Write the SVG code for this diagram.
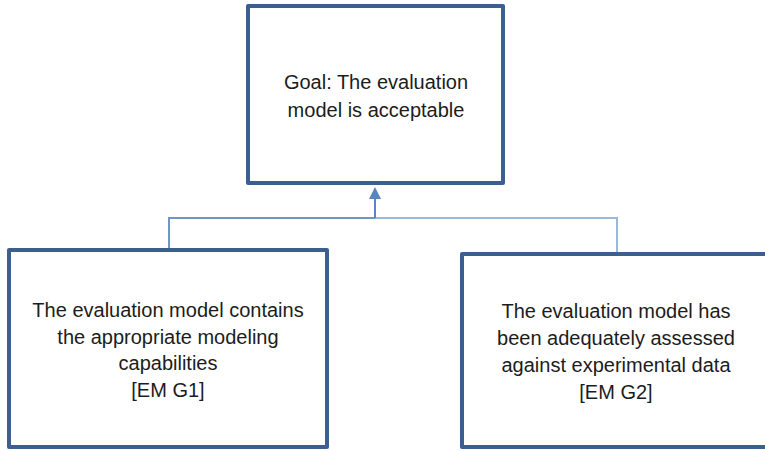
<svg xmlns="http://www.w3.org/2000/svg" width="765" height="451" viewBox="0 0 765 451">
<style>
.box{fill:#ffffff;stroke:#3d5f8d;stroke-width:4;stroke-linejoin:round}
.t{font-family:"Liberation Sans",Arial,sans-serif;font-size:20px;fill:#1c1c1c;text-anchor:middle}
.c{fill:none;stroke-width:2}
</style>
<defs>
<marker id="ah" markerWidth="6" markerHeight="6" refX="5" refY="3" orient="auto" markerUnits="strokeWidth">
<path d="M0,0 L6,3 L0,6 z" fill="#5a86bf"/>
</marker>
</defs>
<rect width="765" height="451" fill="#ffffff"/>
<g id="connectors">
<path class="c" d="M169,250 V218 H375" stroke="#6f96c6"/>
<path class="c" d="M375,218 H617 V254" stroke="#9ab8dc"/>
<path class="c" d="M375,218 V189" stroke="#5a86bf" marker-end="url(#ah)"/>
</g>
<g id="goal">
<rect class="box" x="248" y="6" width="255" height="177"/>
<text class="t" x="376" y="89">Goal: The evaluation</text>
<text class="t" x="376" y="117">model  is acceptable</text>
</g>
<g id="emg1">
<rect class="box" x="9" y="250" width="318" height="197"/>
<text class="t" x="168" y="317">The evaluation model  contains</text>
<text class="t" x="168" y="344">the appropriate modeling</text>
<text class="t" x="168" y="370">capabilities</text>
<text class="t" x="168" y="397">[EM G1]</text>
</g>
<g id="emg2">
<rect class="box" x="462" y="254" width="312" height="193"/>
<text class="t" x="616" y="318">The evaluation model  has</text>
<text class="t" x="616" y="345">been adequately assessed</text>
<text class="t" x="616" y="372">against experimental data</text>
<text class="t" x="616" y="399">[EM G2]</text>
</g>
</svg>
